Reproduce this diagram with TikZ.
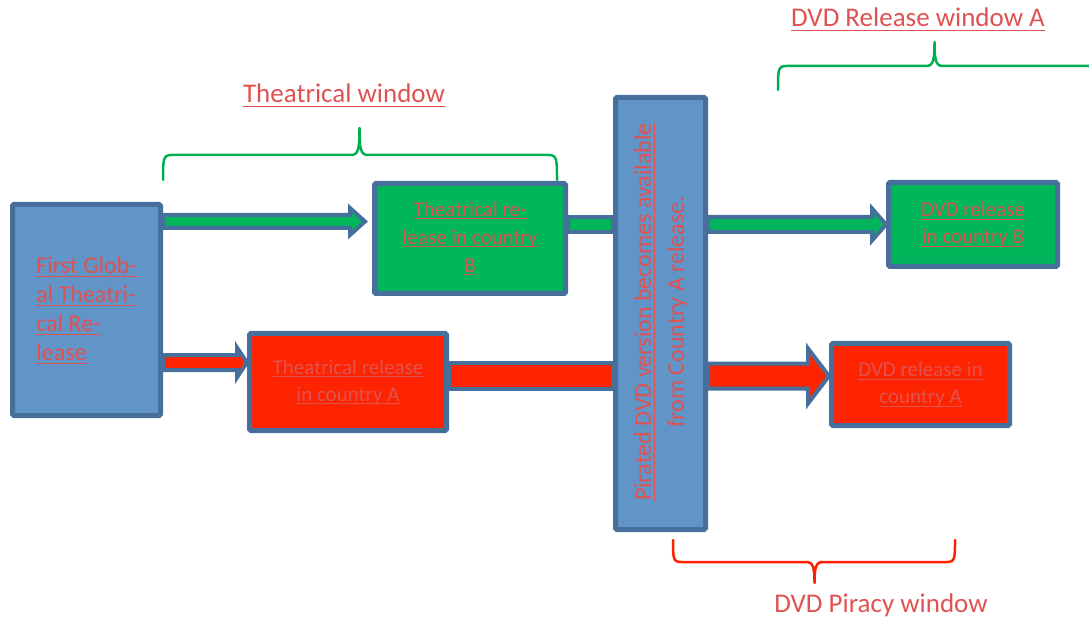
\documentclass[tikz,border=0pt]{standalone}
\usepackage{fontspec}
\setmainfont{Carlito}
\usetikzlibrary{calc,positioning}

\definecolor{bord}{HTML}{476F9B}
\definecolor{bluefill}{HTML}{6194C7}
\definecolor{grnfill}{HTML}{00B55A}
\definecolor{redfill}{HTML}{FF2400}
\definecolor{txtred}{HTML}{E05252}
\definecolor{bracegrn}{HTML}{00B050}
\definecolor{bracered}{HTML}{FF2000}

\newcommand{\ulined}[1]{\setbox0=\hbox{#1}\rlap{\rule[-0.15em]{\wd0}{1pt}}\box0}

\begin{document}
\begin{tikzpicture}[x=1pt,y=-1pt,
    box/.style={draw=bord, line width=5pt, rounded corners=1.5pt, inner sep=0pt,
        text=txtred, align=center, font=\fontsize{21}{27}\selectfont},
    arrowbox/.style={draw=bord, line width=4pt, line join=miter},
    block arrow/.style n args={3}{to path={let \p1=(\tikztostart), \p2=(\tikztotarget) in
        (\x1,\y1+#1pt) -- (\x2-#3pt,\y1+#1pt) -- (\x2-#3pt,\y1+#2pt) -- (\x2,\y1)
        -- (\x2-#3pt,\y1-#2pt) -- (\x2-#3pt,\y1-#1pt) -- (\x1,\y1-#1pt) -- cycle}},
    link bar/.style={to path={let \p1=(\tikztostart), \p2=(\tikztotarget) in
        (\x1,\y1+#1pt) rectangle (\x2,\y1-#1pt)}},
    brace/.style={line width=2.5pt, line cap=round, line join=round},
    window/.style={text=txtred, font=\fontsize{27}{32}\selectfont, anchor=base}]
    \useasboundingbox (0,0) rectangle (1089,617);

    \node[box, fill=bluefill, minimum width=148, minimum height=211, align=left,
        font=\fontsize{24}{29}\selectfont] (fg) at (86.5,310)
        {\ulined{First Glob-}\\\ulined{al Theatri-}\\\ulined{cal Re-}\\\ulined{lease}};
    \node[box, fill=grnfill, minimum width=191, minimum height=110,
        font=\fontsize{21}{28}\selectfont] (tb) at (470,238.5)
        {\ulined{Theatrical re-}\\\ulined{lease in country}\\\ulined{B}};
    \node[box, fill=redfill, minimum width=197, minimum height=97] (ta) at (348,382)
        {\ulined{Theatrical release}\\\ulined{in country A}};
    \node[box, fill=bluefill, minimum width=90, minimum height=432] (pb) at (660.5,313.5) {};
    \node[text=txtred, rotate=90, align=center, font=\fontsize{24}{33}\selectfont] (pbtext)
        at (661,312) {\ulined{Pirated DVD version becomes available}\\from Country A release.};
    \node[box, fill=grnfill, minimum width=169, minimum height=84] (db) at (973,224.5)
        {\ulined{DVD release}\\\ulined{in country B}};
    \node[box, fill=redfill, minimum width=178, minimum height=82] (da) at (920.5,384.5)
        {\ulined{DVD release in}\\\ulined{country A}};

    \coordinate (upB) at (0,221.5);
    \coordinate (rowB) at (0,224.5);
    \coordinate (lowA) at (0,362.5);
    \coordinate (rowA) at (0,376);

    \path
        % country B
        (fg.east |- upB) edge [arrowbox, fill=grnfill, block arrow={6.5}{13.5}{15}] ([xshift=-7pt]tb.west |- upB)
        (tb.east |- rowB) edge [arrowbox, fill=grnfill, link bar=7.5] (pb.west |- rowB)
        (pb.east |- rowB) edge [arrowbox, fill=grnfill, block arrow={7.5}{16}{14}] (db.west |- rowB)

        % country A
        (fg.east |- lowA) edge [arrowbox, fill=redfill, block arrow={7.5}{15}{10}] (ta.west |- lowA)
        (ta.east |- rowA) edge [arrowbox, fill=redfill, link bar=13] (pb.west |- rowA)
        (pb.east |- rowA) edge [arrowbox, fill=redfill, block arrow={12.5}{27.5}{21}] (da.west |- rowA)
        ;

    % braces
    \draw[brace, bracegrn] (163,180) .. controls (163,160) and (163,155) .. (171,155) -- (351,155)
        .. controls (358,155) and (359.5,150) .. (359.5,128) .. controls (359.5,150) and (361,155) .. (368,155)
        -- (549,155) .. controls (557,155) and (557,160) .. (557,180);
    \draw[brace, bracegrn] (778,90) .. controls (778,70) and (778,66) .. (786,66) -- (926,66)
        .. controls (933,66) and (934.5,61) .. (934.5,42) .. controls (934.5,61) and (936,66) .. (943,66)
        -- (1095,66);
    \draw[brace, bracered] (673,540) .. controls (673,558) and (673,562) .. (681,562) -- (806,562)
        .. controls (813,562) and (814.5,567) .. (814.5,583) .. controls (814.5,567) and (816,562) .. (823,562)
        -- (947,562) .. controls (955,562) and (955,558) .. (955,540);

    \node[window] (twlab) at (344,103) {\ulined{Theatrical window}};
    \node[window] (drlab) at (918,27) {\ulined{DVD Release window A}};
    \node[window] (dplab) at (881,612) {DVD Piracy window};
\end{tikzpicture}
\end{document}
